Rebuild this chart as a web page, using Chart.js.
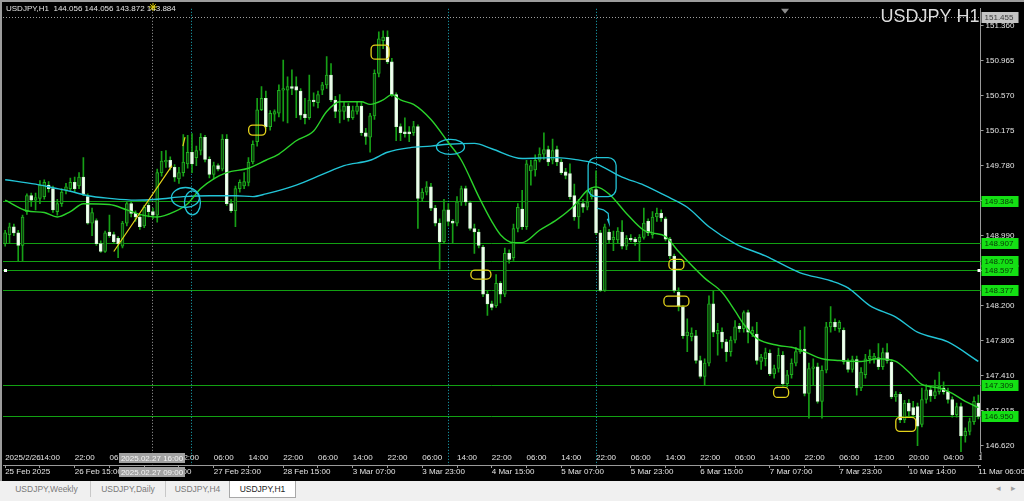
<!DOCTYPE html>
<html lang="en">
<head>
<meta charset="utf-8">
<title>USDJPY H1</title>
<script src="https://cdn.jsdelivr.net/npm/chart.js@4.4.1/dist/chart.umd.min.js"></script>
<style>
body{margin:0;width:1024px;height:501px;overflow:hidden;background:#f0f0f0;font-family:"Liberation Sans",Arial,sans-serif}
#frame{position:absolute;left:0;top:0;width:1022px;height:479px;border-left:2px solid #9c9c9c;border-top:2px solid #9c9c9c;background:#000}
#tabs{position:absolute;left:0;top:481px;width:1024px;height:20px;background:#f0f0f0}
.tab{position:absolute;top:0;height:16px;line-height:16px;font-size:8.5px;color:#7a7a7a;text-align:center;border-right:1px solid #c8c8c8}
.tab.on{background:#fff;color:#1e1e1e;border:1px solid #a8a8a8;border-top:none}
.arr{position:absolute;top:2px;font-size:9px;color:#a0a0a0;font-family:"DejaVu Sans",sans-serif}
</style>
</head>
<body>
<div id="frame"><canvas id="c" width="1022" height="479"></canvas></div>
<div id="tabs">
  <div class="tab" style="left:3px;width:87px">USDJPY,Weekly</div>
  <div class="tab" style="left:91px;width:74px">USDJPY,Daily</div>
  <div class="tab" style="left:166px;width:63px">USDJPY,H4</div>
  <div class="tab on" style="left:229px;width:65px">USDJPY,H1</div>
  <div class="arr" style="left:996px">&#9666;</div>
  <div class="arr" style="left:1011px">&#9656;</div>
</div>
<script>
// hourly bars, bar 0 = 25 Feb 23:00 server time
const ohlcOpen = [
  148.90,149.00,149.09,149.02,148.88,149.26,149.44,149.39,149.41,149.43,
  149.56,149.52,149.26,149.35,149.50,149.52,149.59,149.55,149.65,149.43,
  149.13,149.16,148.90,148.81,149.03,149.00,148.96,148.87,149.13,149.35,
  149.24,149.20,149.10,149.33,149.26,149.22,149.70,149.82,149.84,149.76,
  149.63,149.70,149.80,149.93,149.87,149.95,150.10,149.85,149.68,149.78,
  149.74,150.08,149.35,149.27,149.52,149.55,149.59,149.82,150.05,150.41,
  150.54,150.22,150.36,150.37,150.63,150.63,150.67,150.67,150.62,150.36,
  150.32,150.52,150.49,150.63,150.69,150.80,150.52,150.39,150.39,150.45,
  150.32,150.39,150.45,150.15,150.10,150.34,150.82,151.19,151.23,150.95,
  150.58,150.22,150.16,150.16,150.15,150.22,149.41,149.48,149.54,149.30,
  149.13,148.92,149.28,149.15,149.13,149.37,149.52,149.36,149.07,149.03,
  148.86,148.33,148.22,148.20,148.45,148.33,148.79,148.74,149.07,149.29,
  149.09,149.72,149.73,149.84,149.91,149.96,149.84,149.96,149.82,149.71,
  149.69,149.44,149.20,149.35,149.31,149.43,149.51,149.02,148.37,149.03,
  148.94,148.94,149.03,148.87,148.96,148.95,148.92,148.97,149.15,149.00,
  149.20,149.24,149.18,148.95,148.76,148.35,148.18,147.86,147.85,147.86,
  147.58,147.40,147.55,148.22,147.88,147.90,147.79,147.68,147.81,147.97,
  147.94,148.12,147.88,147.88,147.57,147.60,147.66,147.43,147.49,147.64,
  147.32,147.42,147.55,147.68,147.71,147.21,147.49,147.51,147.12,147.47,
  147.96,148.01,147.94,147.92,147.57,147.48,147.59,147.27,147.42,147.60,
  147.60,147.61,147.51,147.67,147.56,147.17,147.20,146.91,147.10,147.05,
  147.06,146.86,147.14,147.25,147.18,147.23,147.27,147.23,147.14,146.97,
  147.06,146.73,146.78,146.89,147.10
];
const ohlcHigh = [
  149.05,149.13,149.12,149.05,149.22,149.46,149.47,149.47,149.61,149.62,
  149.60,149.55,149.40,149.52,149.58,149.64,149.65,149.70,149.87,149.46,
  149.30,149.18,148.93,149.04,149.22,149.03,148.98,149.15,149.37,149.38,
  149.27,149.23,149.33,149.36,149.30,149.74,149.94,149.95,149.88,149.79,
  149.76,150.13,150.12,150.14,150.00,150.14,150.12,149.88,149.82,149.80,
  150.13,150.13,149.40,149.55,149.62,149.70,149.87,150.06,150.54,150.67,
  150.62,150.40,150.41,150.69,150.97,150.78,150.86,150.78,150.65,150.54,
  150.80,150.60,150.62,150.72,151.01,150.93,150.56,150.58,150.50,150.48,
  150.45,150.50,150.50,150.20,150.37,150.86,151.29,151.30,151.30,150.99,
  150.60,150.25,150.32,150.22,150.28,150.24,149.52,149.60,149.58,149.33,
  149.18,149.40,149.35,149.17,149.43,149.55,149.55,149.38,149.12,149.06,
  148.88,148.36,148.25,148.55,148.47,148.85,148.83,149.12,149.35,149.50,
  149.84,149.84,149.90,149.98,150.15,150.00,150.08,150.00,149.85,149.75,
  149.80,149.57,149.40,149.40,149.50,149.53,149.72,149.05,149.12,149.06,
  149.04,149.08,149.16,148.99,149.00,148.97,149.00,149.30,149.18,149.26,
  149.30,149.28,149.20,148.97,148.78,148.40,148.20,148.05,147.95,147.92,
  147.63,147.60,148.31,148.37,148.00,147.95,147.82,147.85,148.03,148.00,
  148.14,148.15,147.96,148.01,147.65,147.72,147.70,147.53,147.72,147.68,
  147.47,147.60,147.73,147.92,147.96,147.55,147.60,147.55,147.52,148.01,
  148.19,148.05,148.03,147.95,147.60,147.63,147.63,147.50,147.65,147.70,
  147.66,147.77,147.72,147.77,147.59,147.23,147.22,147.13,147.14,147.12,
  147.10,147.27,147.31,147.30,147.36,147.45,147.34,147.27,147.17,147.10,
  147.10,146.82,146.93,147.17,147.19
];
const ohlcLow = [
  148.87,148.90,148.99,148.70,148.70,149.23,149.32,149.28,149.35,149.40,
  149.48,149.25,149.22,149.32,149.46,149.50,149.48,149.52,149.44,149.12,
  148.99,148.88,148.80,148.80,148.97,148.90,148.74,148.85,149.10,149.20,
  149.15,149.06,149.08,149.20,149.18,149.14,149.66,149.76,149.73,149.60,
  149.58,149.66,149.75,149.70,149.78,149.90,149.82,149.64,149.63,149.72,
  149.72,149.33,149.25,149.09,149.48,149.52,149.55,149.80,150.00,150.40,
  150.20,150.18,150.28,150.33,150.28,150.26,150.58,150.32,150.30,150.25,
  150.30,150.45,150.43,150.58,150.65,150.50,150.32,150.26,150.30,150.28,
  150.30,150.36,150.12,150.02,149.93,150.30,150.78,151.10,150.93,150.56,
  150.06,150.06,150.10,150.05,150.12,149.07,149.38,149.45,149.27,149.10,
  148.61,148.90,149.10,148.90,149.10,149.33,149.33,149.05,148.79,148.85,
  148.30,148.09,148.15,148.18,148.23,148.30,148.68,148.71,149.03,149.06,
  149.06,149.56,149.66,149.82,149.85,149.78,149.80,149.78,149.68,149.63,
  149.40,149.16,149.07,149.25,149.28,149.40,149.00,148.36,148.36,148.90,
  148.82,148.90,148.84,148.83,148.92,148.88,148.70,148.95,148.99,148.96,
  149.15,149.15,148.93,148.73,148.35,148.14,147.83,147.68,147.80,147.55,
  147.38,147.30,147.52,147.85,147.64,147.72,147.57,147.63,147.78,147.90,
  147.90,147.78,147.85,147.54,147.48,147.52,147.41,147.38,147.45,147.29,
  147.28,147.38,147.52,147.66,147.18,146.93,147.30,147.10,146.93,147.44,
  147.90,147.92,147.90,147.54,147.45,147.45,147.19,147.24,147.38,147.55,
  147.55,147.48,147.48,147.55,147.15,147.12,146.88,146.88,146.95,146.94,
  146.62,146.83,147.10,147.12,147.15,147.20,147.20,147.10,146.94,146.94,
  146.55,146.66,146.74,146.86,146.92
];
const ohlcClose = [
  149.02,149.09,149.02,148.88,149.20,149.44,149.39,149.42,149.56,149.59,
  149.52,149.28,149.35,149.48,149.54,149.59,149.52,149.65,149.46,149.13,
  149.25,148.90,148.81,149.02,148.99,148.92,148.90,149.13,149.35,149.24,
  149.20,149.09,149.31,149.26,149.22,149.70,149.83,149.84,149.76,149.65,
  149.70,149.82,149.93,149.80,149.95,150.10,149.85,149.68,149.78,149.74,
  150.08,149.35,149.27,149.52,149.59,149.60,149.82,150.02,150.41,150.54,
  150.22,150.37,150.39,150.63,150.65,150.67,150.65,150.63,150.35,150.32,
  150.52,150.50,150.58,150.69,150.80,150.52,150.39,150.41,150.45,150.32,
  150.40,150.45,150.15,150.11,150.34,150.82,151.21,151.23,150.95,150.58,
  150.22,150.15,150.14,150.14,150.22,149.41,149.48,149.54,149.30,149.13,
  148.92,149.28,149.15,149.13,149.37,149.52,149.37,149.07,149.03,148.88,
  148.33,148.22,148.18,148.45,148.33,148.79,148.72,149.07,149.31,149.09,
  149.80,149.78,149.84,149.91,149.96,149.82,149.95,149.82,149.70,149.67,
  149.43,149.20,149.35,149.31,149.37,149.51,149.02,148.37,149.09,148.94,
  148.97,149.04,148.87,148.96,148.94,148.92,148.97,149.13,149.02,149.20,
  149.24,149.19,148.95,148.76,148.37,148.20,147.86,147.90,147.89,147.58,
  147.40,147.55,148.22,147.90,147.92,147.79,147.68,147.81,147.96,147.94,
  148.12,147.90,147.92,147.58,147.62,147.67,147.43,147.49,147.64,147.32,
  147.42,147.55,147.68,147.71,147.21,147.49,147.51,147.12,147.47,147.96,
  148.01,147.96,148.01,147.57,147.48,147.59,147.27,147.45,147.60,147.63,
  147.63,147.51,147.67,147.58,147.17,147.20,146.91,147.10,147.01,146.97,
  146.84,147.14,147.25,147.18,147.23,147.29,147.23,147.14,146.97,147.06,
  146.73,146.78,146.89,147.12,146.95
];

// moving averages, read at a few bars along each curve
const maFastBars = [0,5,9,12,15,18,24,28,31,35,39,42,45,48,51,56,60,63,67,71,74,77,80,82,84,87,89,91,94,98,102,105,109,112,114,117,119,123,127,131,134,136,139,143,147,149,152,155,161,165,168,170,173,178,181,184,188,192,197,201,205,208,211,215,218,221,224];
const maFastVals = [149.39,149.27,149.25,149.20,149.26,149.35,149.34,149.28,149.23,149.20,149.26,149.35,149.52,149.63,149.70,149.75,149.84,149.91,150.06,150.17,150.39,150.50,150.50,150.50,150.47,150.52,150.58,150.52,150.47,150.30,150.04,149.84,149.43,149.15,149.00,148.91,148.91,149.05,149.17,149.33,149.50,149.54,149.46,149.24,149.05,149.02,148.98,148.81,148.51,148.35,148.14,147.99,147.83,147.75,147.73,147.68,147.60,147.58,147.57,147.60,147.57,147.45,147.31,147.27,147.21,147.12,147.05];
const maSlowBars = [0,7,11,15,19,24,30,35,41,47,53,57,60,67,73,78,84,88,93,98,102,108,112,119,127,131,136,142,147,152,157,162,168,175,183,190,194,199,205,210,217,224];
const maSlowVals = [149.62,149.57,149.53,149.49,149.44,149.41,149.39,149.40,149.43,149.44,149.44,149.43,149.46,149.56,149.68,149.78,149.84,149.93,149.98,150.00,150.02,150.03,149.97,149.86,149.87,149.85,149.80,149.65,149.56,149.44,149.31,149.09,148.90,148.76,148.57,148.48,148.40,148.20,148.07,147.90,147.79,147.57];

// drawn objects
const levelPrices = [149.384, 148.907, 148.705, 148.597, 148.377, 147.309, 146.950];
const trendBars = [25.0, 38.4, 39.6, 40.9, 41.4];
const trendPrices = [148.81, 149.78, null, 150.00, 150.10];
const arrowBars = [136.2, 137.7, 138.8, 139.0, 138.6];
const arrowPrices = [149.30, 149.28, 149.24, 149.13, 149.18];
const yellowMarkBars = [86.3, 58.0, 109.5, 154.5, 154.5, 178.6, 207.3];
const yellowMarkPrices = [151.06, 150.18, 148.55, 148.665, 148.25, 147.22, 146.86];
const cyanMarkBars = [41.5, 43.1, 102.5, 137.4];
const cyanMarkPrices = [149.42, 149.36, 149.99, 149.65];
const cyanVLineBars = [42.7, 101.9, 135.9];
const crossBar = 33.8, crossPrice = 151.455;

// axis text
const priceTicks = [151.360,150.965,150.570,150.175,149.780,149.385,148.990,148.595,148.200,147.805,147.410,147.015,146.620];
const topRowLabels = ['2025/2/26','14:00','22:00','06:00','14:00','22:00','06:00','14:00','22:00','06:00','14:00','22:00','06:00','14:00','22:00','06:00','14:00','22:00','06:00','14:00','22:00','06:00','14:00','22:00','06:00','12:00','20:00','04:00','12:00'];
const bottomRowLabels = ['25 Feb 2025','26 Feb 15:00','27 Feb 07:00','27 Feb 23:00','28 Feb 15:00','3 Mar 07:00','3 Mar 23:00','4 Mar 15:00','5 Mar 07:00','5 Mar 23:00','6 Mar 15:00','7 Mar 07:00','7 Mar 23:00','10 Mar 14:00','11 Mar 06:00'];

// sizes of the hand drawn marks, px
const yellowMarkSize = [[18,14],[17,10],[20,9],[15,10],[25,10],[15,10],[20,14]];
const cyanMarkSize = [[28,20,'e'],[16,24,'e'],[28,15,'e'],[28,39,'r']];

const FONT = '"Liberation Sans", Arial, sans-serif';
const TXT = '#e4e4e4';
const AXIS = '#9a9a9a';

const labels = ohlcOpen.map((v, i) => String(i));
const isUp = ohlcOpen.map((o, i) => ohlcClose[i] >= o);
const toPts = (xs, ys) => xs.map((x, i) => ({x: x, y: ys[i]}));

function hline(ctx, x1, x2, y) { ctx.beginPath(); ctx.moveTo(x1, y); ctx.lineTo(x2, y); ctx.stroke(); }
function vline(ctx, x, y1, y2) { ctx.beginPath(); ctx.moveTo(x, y1); ctx.lineTo(x, y2); ctx.stroke(); }

function priceBox(ctx, x, y, txt, bg, fg) {
  ctx.fillStyle = bg;
  ctx.fillRect(x, Math.round(y) - 5, 37, 11);
  ctx.fillStyle = fg;
  ctx.font = '8px ' + FONT;
  ctx.textAlign = 'left';
  ctx.textBaseline = 'middle';
  ctx.fillText(txt, x + 3, Math.round(y) + 0.5);
}

const mtOverlay = {
  id: 'mtOverlay',
  beforeDatasetsDraw(chart) {
    const ctx = chart.ctx, a = chart.chartArea;
    const xs = chart.scales.xi, ys = chart.scales.y;
    ctx.save();
    ctx.lineWidth = 1;
    ctx.strokeStyle = '#12a012';
    levelPrices.forEach(p => hline(ctx, a.left, a.right, Math.round(ys.getPixelForValue(p)) + 0.5));
    ctx.setLineDash([1, 2]);
    ctx.strokeStyle = '#1aaebe';
    cyanVLineBars.forEach(b => vline(ctx, Math.round(xs.getPixelForValue(b)) + 0.5, a.top, a.bottom + 13));
    ctx.strokeStyle = '#a0a0a0';
    vline(ctx, Math.round(xs.getPixelForValue(crossBar)) + 0.5, a.top, a.bottom + 13);
    hline(ctx, a.left, a.right, Math.round(ys.getPixelForValue(crossPrice)) + 0.5);
    ctx.restore();
  },
  afterDatasetsDraw(chart) {
    const ctx = chart.ctx;
    const xs = chart.scales.xi, ys = chart.scales.y;
    ctx.save();
    ctx.lineWidth = 1.3;
    ctx.strokeStyle = '#e3d21a';
    yellowMarkBars.forEach((b, i) => {
      const cx = xs.getPixelForValue(b), cy = ys.getPixelForValue(yellowMarkPrices[i]);
      const w = yellowMarkSize[i][0], h = yellowMarkSize[i][1];
      ctx.beginPath();
      ctx.roundRect(cx - w / 2, cy - h / 2, w, h, 4);
      ctx.stroke();
    });
    ctx.strokeStyle = '#22c4d6';
    cyanMarkBars.forEach((b, i) => {
      const cx = xs.getPixelForValue(b), cy = ys.getPixelForValue(cyanMarkPrices[i]);
      const s = cyanMarkSize[i];
      ctx.beginPath();
      if (s[2] === 'r') ctx.roundRect(cx - s[0] / 2, cy - s[1] / 2, s[0], s[1], 8);
      else ctx.ellipse(cx, cy, s[0] / 2, s[1] / 2, 0, 0, Math.PI * 2);
      ctx.stroke();
    });
    ctx.restore();
  },
  afterDraw(chart) {
    const ctx = chart.ctx, a = chart.chartArea;
    const xs = chart.scales.xi, ys = chart.scales.y;
    ctx.save();
    // top row labels are cut at the price scale
    ctx.fillStyle = '#000';
    ctx.fillRect(a.right + 1, a.bottom, chart.width - a.right, 13);
    ctx.strokeStyle = AXIS;
    ctx.lineWidth = 1;
    vline(ctx, a.right + 0.5, a.bottom, a.bottom + 8);

    // header and symbol title
    ctx.font = '8px ' + FONT;
    ctx.fillStyle = TXT;
    ctx.textAlign = 'left';
    ctx.textBaseline = 'middle';
    ctx.fillText('USDJPY,H1  144.056 144.056 143.872 143.884', 4, 7);
    ctx.font = '18px ' + FONT;
    ctx.fillStyle = '#dcdcdc';
    ctx.textAlign = 'right';
    ctx.fillText('USDJPY H1', a.right - 1, 15);

    // little marks at the top
    const sx = xs.getPixelForValue(crossBar) + 1, sy = 5;
    ctx.strokeStyle = '#d8c800';
    for (let k = 0; k < 4; k++) {
      const ang = k * Math.PI / 4;
      ctx.beginPath();
      ctx.moveTo(sx - 4 * Math.cos(ang), sy - 4 * Math.sin(ang));
      ctx.lineTo(sx + 4 * Math.cos(ang), sy + 4 * Math.sin(ang));
      ctx.stroke();
    }
    const tx = xs.getPixelForValue(179.5);
    ctx.fillStyle = '#8c8c8c';
    ctx.beginPath();
    ctx.moveTo(tx - 4, a.top); ctx.lineTo(tx + 4, a.top); ctx.lineTo(tx, a.top + 5);
    ctx.fill();

    // selected line end points
    const sel = Math.round(ys.getPixelForValue(148.597));
    ctx.fillStyle = '#ffffff';
    ctx.fillRect(a.left + 1, sel - 1, 3, 3);
    ctx.fillRect(a.right - 3, sel - 1, 3, 3);

    // price labels on the scale
    levelPrices.forEach(p => priceBox(ctx, ys.left + 1, ys.getPixelForValue(p), p.toFixed(3), '#14e014', '#073507'));
    priceBox(ctx, ys.left + 1, ys.getPixelForValue(crossPrice), crossPrice.toFixed(3), '#c4c4c4', '#3a3a3a');

    // crosshair time boxes
    const cx = xs.getPixelForValue(crossBar);
    ctx.font = '8px ' + FONT;
    ctx.textAlign = 'center';
    [['2025.02.27 16:00', a.bottom + 1], ['2025.02.27 09:00', a.bottom + 15]].forEach(r => {
      ctx.fillStyle = '#a2a2a2';
      ctx.fillRect(Math.round(cx - 33), r[1], 66, 10);
      ctx.fillStyle = '#f4f4f4';
      ctx.fillText(r[0], cx, r[1] + 5.5);
    });
    ctx.restore();
  }
};

new Chart(document.getElementById('c'), {
  type: 'bar',
  data: {
    labels: labels,
    datasets: [
      {
        label: 'wick',
        xAxisID: 'x', yAxisID: 'y',
        data: ohlcLow.map((l, i) => [l, ohlcHigh[i]]),
        backgroundColor: '#16a016',
        barThickness: 1,
        grouped: false,
        order: 5
      },
      {
        label: 'body',
        xAxisID: 'x', yAxisID: 'y',
        data: ohlcOpen.map((o, i) => [o, ohlcClose[i]]),
        backgroundColor: isUp.map(u => u ? '#0c420c' : '#f4fff4'),
        borderColor: isUp.map(u => u ? '#1fae1f' : '#d4f4d4'),
        borderWidth: 1,
        borderSkipped: false,
        barThickness: 3,
        minBarLength: 1,
        grouped: false,
        order: 4
      },
      { type: 'line', label: 'ma fast', xAxisID: 'xi', yAxisID: 'y', data: toPts(maFastBars, maFastVals), borderColor: '#2ad22a', borderWidth: 1.4, pointRadius: 0, cubicInterpolationMode: 'monotone', order: 2 },
      { type: 'line', label: 'ma slow', xAxisID: 'xi', yAxisID: 'y', data: toPts(maSlowBars, maSlowVals), borderColor: '#22c4d6', borderWidth: 1.4, pointRadius: 0, cubicInterpolationMode: 'monotone', order: 2 },
      { type: 'line', label: 'trend', xAxisID: 'xi', yAxisID: 'y', data: toPts(trendBars, trendPrices), borderColor: '#e3d21a', borderWidth: 1.2, pointRadius: 0, spanGaps: false, order: 1 },
      { type: 'line', label: 'arrow', xAxisID: 'xi', yAxisID: 'y', data: toPts(arrowBars, arrowPrices), borderColor: '#22c4d6', borderWidth: 1.2, pointRadius: 0, order: 1 }
    ]
  },
  options: {
    responsive: false,
    animation: false,
    devicePixelRatio: 1,
    events: [],
    layout: { padding: { left: 1, top: 1, right: 0, bottom: 0 } },
    plugins: { legend: { display: false }, tooltip: { enabled: false } },
    scales: {
      x: {
        type: 'category', position: 'bottom', offset: true, weight: 0,
        grid: { display: false, drawTicks: false },
        border: { display: false },
        ticks: {
          autoSkip: false, maxRotation: 0, minRotation: 0, align: 'start', padding: 1,
          color: TXT, font: { family: FONT, size: 8 },
          callback: (v, i) => i % 8 === 0 ? topRowLabels[i / 8] : ''
        },
        afterFit: s => { s.height = 13; }
      },
      x2: {
        type: 'category', position: 'bottom', offset: true, weight: 1,
        grid: {
          display: true, drawOnChartArea: false, offset: false, tickLength: 3,
          color: c => c.index % 8 === 0 ? AXIS : 'rgba(0,0,0,0)'
        },
        border: { display: true, color: AXIS },
        ticks: {
          autoSkip: false, maxRotation: 0, minRotation: 0, align: 'start', padding: -1,
          color: TXT, font: { family: FONT, size: 8 },
          callback: (v, i) => i % 16 === 0 ? bottomRowLabels[i / 16] : ''
        },
        afterFit: s => { s.height = 16; }
      },
      xi: {
        type: 'linear', position: 'bottom', weight: -1, min: -0.5, max: 224.5,
        offset: false, bounds: 'data',
        grid: { display: false, drawTicks: false, offset: false },
        border: { display: false },
        ticks: { display: false },
        afterFit: s => { s.height = 0; }
      },
      y: {
        position: 'right', min: 146.548, max: 151.549,
        grid: { drawOnChartArea: false, tickLength: 3, color: AXIS },
        border: { color: AXIS },
        ticks: { padding: 2, color: TXT, font: { family: FONT, size: 8 }, callback: v => v.toFixed(3) },
        afterBuildTicks: s => { s.ticks = priceTicks.map(v => ({ value: v })); },
        afterFit: s => { s.width = 41; }
      }
    }
  },
  plugins: [mtOverlay]
});
</script>
</body>
</html>
